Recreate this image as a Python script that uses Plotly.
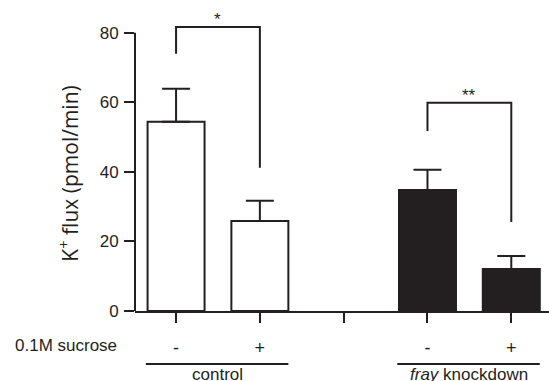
import plotly.graph_objects as go

# Data
positions = [0, 1, 3, 4]
values = [54.4, 25.9, 34.8, 12.1]
errors = [9.5, 5.8, 5.8, 3.7]
fills = ["white", "white", "#231f20", "#231f20"]
tick_positions = [0, 1, 2, 3, 4]
tick_labels = ["-", "+", "", "-", "+"]
y_ticks = [0, 20, 40, 60, 80]

# significance brackets: (x_left, x_right, y_left_bottom, y_top, y_right_bottom, label)
brackets = [
    (0, 1, 74.0, 81.7, 41.2, "*"),
    (3, 4, 51.8, 59.9, 25.6, "**"),
]
groups = [("control", -0.36, 1.34), ("<i>fray</i> knockdown", 2.64, 4.34)]

INK = "#231f20"
FONT = "Arial"

fig = go.Figure()
fig.add_trace(go.Bar(
    x=positions, y=values, width=0.68,
    marker=dict(color=fills, line=dict(color=INK, width=2)),
    error_y=dict(type="data", array=errors, arrayminus=[0]*len(errors),
                 symmetric=False, color=INK, thickness=2, width=14),
    showlegend=False,
))

for xl, xr, yl, yt, yr, lab in brackets:
    fig.add_trace(go.Scatter(x=[xl, xl, xr, xr], y=[yl, yt, yt, yr], mode="lines",
                             line=dict(color=INK, width=2), showlegend=False,
                             hoverinfo="skip"))
    fig.add_annotation(x=(xl+xr)/2, y=yt, text=lab, showarrow=False,
                       yanchor="bottom", yshift=-4, font=dict(size=17, color=INK, family=FONT))

shapes = [dict(type="line", xref="paper", yref="y", x0=0, x1=0, y0=0, y1=80,
               line=dict(color=INK, width=2))]
for lab, x0, x1 in groups:
    shapes.append(dict(type="line", xref="x", yref="paper", x0=x0, x1=x1,
                       y0=-0.173, y1=-0.173, line=dict(color=INK, width=2)))
    fig.add_annotation(x=(x0+x1)/2, xref="x", y=-0.209, yref="paper", text=lab,
                       showarrow=False, yanchor="middle",
                       font=dict(size=17, color=INK, family=FONT))

fig.add_annotation(x=-0.0386, xref="paper", y=-0.114, yref="paper", text="0.1M sucrose",
                   showarrow=False, xanchor="right", yanchor="middle",
                   font=dict(size=17, color=INK, family=FONT))
fig.add_annotation(x=-0.161, xref="paper", y=0.45, yref="paper",
                   text="K<sup>+</sup> flux (pmol/min)", textangle=-90,
                   showarrow=False, xanchor="center", yanchor="middle",
                   font=dict(size=21, color=INK, family="Open Sans"))

fig.update_layout(
    width=549, height=381,
    margin=dict(l=135, r=0, t=5, b=70),
    plot_bgcolor="white", paper_bgcolor="white",
    shapes=shapes,
    font=dict(family=FONT, color=INK),
    xaxis=dict(range=[-0.49, 4.45], tickvals=tick_positions, ticktext=tick_labels,
               showline=True, linecolor=INK, linewidth=2, ticks="outside",
               ticklen=10, tickwidth=2, tickcolor=INK, showgrid=False, zeroline=False,
               tickfont=dict(size=18, color=INK), ticklabelstandoff=9),
    yaxis=dict(range=[0, 88], tickvals=y_ticks, showline=False, ticks="outside",
               ticklen=10, tickwidth=2, tickcolor=INK, showgrid=False, zeroline=False,
               tickfont=dict(size=17, color=INK), ticklabelstandoff=2),
)
fig.write_html("out.html", post_script="document.body.style.margin='0';",
               config={"displayModeBar": False})
